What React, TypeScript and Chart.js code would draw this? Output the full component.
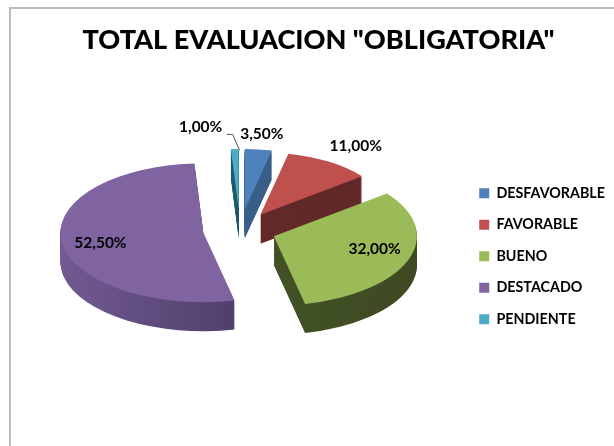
import React, { useEffect, useRef } from "react";
import { Chart, registerables } from "chart.js";

Chart.register(...registerables);

const title = 'TOTAL EVALUACION "OBLIGATORIA"';
const categories = ["DESFAVORABLE", "FAVORABLE", "BUENO", "DESTACADO", "PENDIENTE"];
const values = [3.5, 11, 32, 52.5, 1];
const valueLabels = ["3,50%", "11,00%", "32,00%", "52,50%", "1,00%"];
const topColors = ["#4f81bd", "#c0504d", "#9bbb59", "#8064a2", "#4bacc6"];
const wallLight = ["#3c6595", "#662b29", "#48582a", "#715a92", "#1c6478"];
const wallDark = ["#34587f", "#5f2826", "#3d4a22", "#3c2d52", "#174f5f"];

// 3D look: squash, wall depth, explosion and a small perspective factor per slice
const FONT = "Lato";
const SQUASH = 0.486;
const DEPTH = 29;
const PIE_SHIFT_X = -2;
const PIE_SHIFT_Y = -26;
const explode = [43, 38, 36, 37, 43];
const perspective = [0.87, 0.9, 1, 1, 0.87];
const drawOrder = [4, 0, 1, 3, 2];
const labelRadius = [156, 178, 107, 104, 0];
const labelNudge = [[0, 0], [0, 4], [0, -5], [0, 3], [-38, -82]];

const pie3d = {
  id: "pie3d",
  beforeDatasetDraw(chart: any) {
    const ctx = chart.ctx;
    const arcs = chart.getDatasetMeta(0).data;
    const place = (arc: any, i: number, drop: number) => {
      const mid = (arc.startAngle + arc.endAngle) / 2;
      const k = perspective[i];
      ctx.translate(
        arc.x + PIE_SHIFT_X + Math.cos(mid) * explode[i],
        arc.y + PIE_SHIFT_Y + Math.sin(mid) * explode[i] * SQUASH + drop
      );
      ctx.scale(k, k * SQUASH);
      ctx.translate(-arc.x, -arc.y);
    };
    for (const i of drawOrder) {
      const arc = arcs[i];
      const base = arc.options;
      for (let d = DEPTH; d >= 1; d--) {
        ctx.save();
        place(arc, i, d);
        const g = ctx.createLinearGradient(arc.x - arc.outerRadius, 0, arc.x + arc.outerRadius, 0);
        g.addColorStop(0, wallLight[i]);
        g.addColorStop(1, wallDark[i]);
        arc.options = { ...base, backgroundColor: g };
        arc.draw(ctx);
        ctx.restore();
      }
      ctx.save();
      place(arc, i, 0);
      arc.options = base;
      arc.draw(ctx);
      ctx.restore();
    }
    return false;
  },
  afterDatasetsDraw(chart: any) {
    const ctx = chart.ctx;
    const arcs = chart.getDatasetMeta(0).data;
    ctx.save();
    ctx.font = `bold 15.5px ${FONT}`;
    ctx.fillStyle = "#000";
    ctx.textAlign = "center";
    ctx.textBaseline = "middle";
    arcs.forEach((arc: any, i: number) => {
      const mid = (arc.startAngle + arc.endAngle) / 2;
      const r = explode[i] + labelRadius[i];
      const cx = arc.x + PIE_SHIFT_X;
      const cy = arc.y + PIE_SHIFT_Y;
      const x = cx + Math.cos(mid) * r + labelNudge[i][0];
      const y = cy + Math.sin(mid) * r * SQUASH + labelNudge[i][1];
      ctx.fillText(valueLabels[i], x, y);
      if (i === 4) {
        const mx = cx + Math.cos(mid) * explode[i];
        const my = cy + Math.sin(mid) * explode[i] * SQUASH - 59;
        ctx.strokeStyle = "#555";
        ctx.lineWidth = 1;
        ctx.beginPath();
        ctx.moveTo(x + 26, y + 7);
        ctx.lineTo(x + 32, y + 7);
        ctx.lineTo(mx + 1, my);
        ctx.stroke();
      }
    });
    ctx.restore();
  },
};

export default function App() {
  const ref = useRef<HTMLCanvasElement>(null);
  useEffect(() => {
    document.body.style.margin = "0";
    document.body.style.overflow = "hidden";
    const chart = new Chart(ref.current as HTMLCanvasElement, {
      type: "pie",
      data: {
        labels: categories,
        datasets: [{ data: values, backgroundColor: topColors, borderWidth: 0, clip: false } as any],
      },
      plugins: [pie3d as any],
      options: {
        animation: false,
        responsive: false,
        radius: 143,
        layout: { padding: { top: 12, bottom: 0, left: 22, right: -1 } },
        plugins: {
          title: {
            display: true,
            text: title,
            color: "#000",
            font: { family: FONT, size: 27.1, weight: "900" },
            padding: { top: 12, bottom: 10 },
          },
          legend: {
            position: "right",
            fullSize: false,
            labels: {
              boxWidth: 10,
              boxHeight: 10,
              padding: 17.2,
              color: "#000",
              font: { family: FONT, size: 14.3, weight: "bold" },
            },
          },
          tooltip: { enabled: false },
        },
      } as any,
    });
    return () => chart.destroy();
  }, []);
  return (
    <div style={{ position: "absolute", left: 0, top: 0, width: 614, height: 446, overflow: "hidden", background: "#fff" }}>
      <div style={{ position: "absolute", left: 9, top: 7, width: 620, height: 460, borderLeft: "2px solid #bcbcbc", borderTop: "2px solid #bcbcbc" }} />
      <canvas ref={ref} width={614} height={446} style={{ position: "absolute", left: 0, top: 0 }} />
    </div>
  );
}
